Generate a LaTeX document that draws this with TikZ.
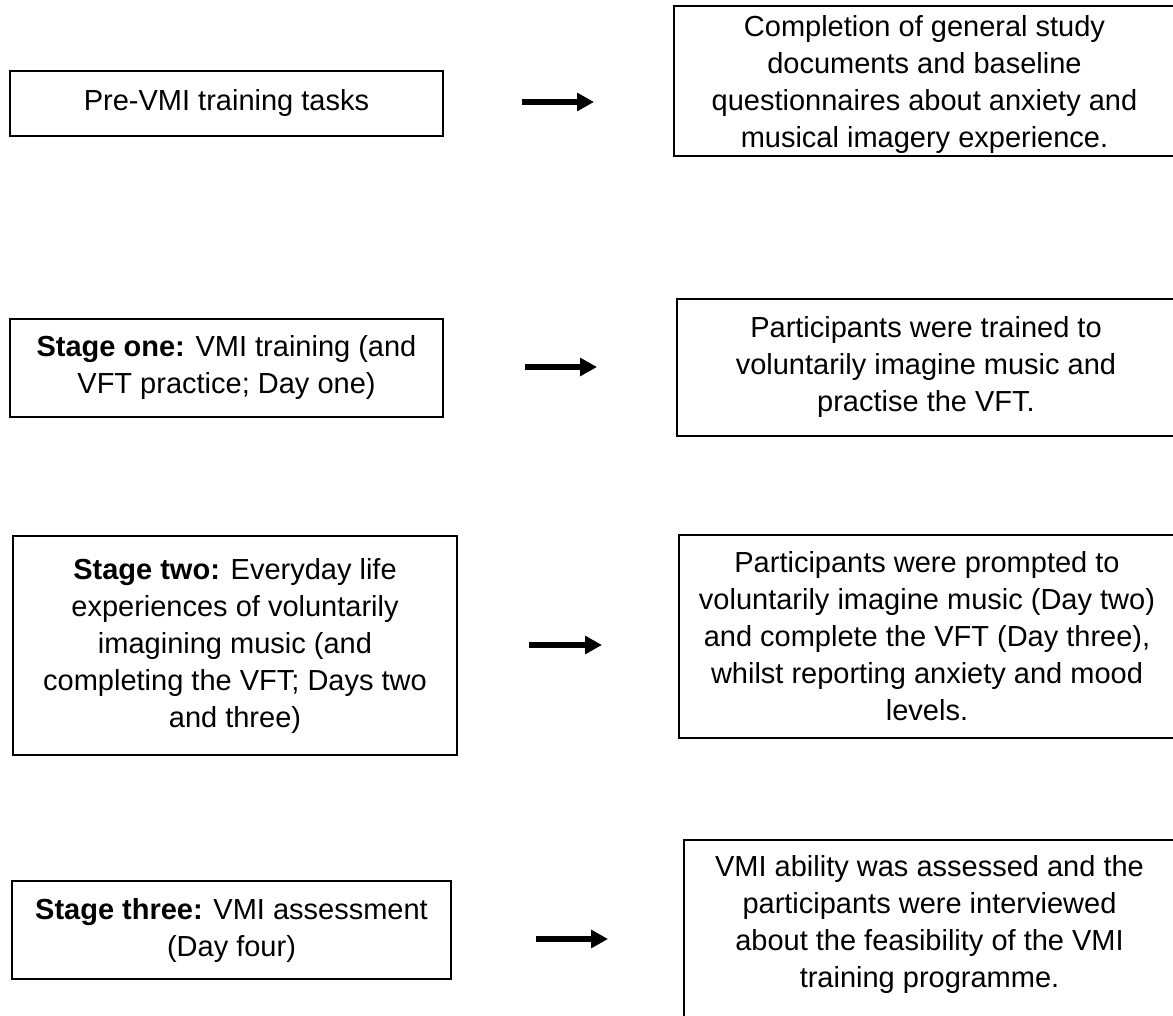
\documentclass[tikz,border=0pt]{standalone}
\usepackage{fontspec}
\setmainfont{Liberation Sans}
\usetikzlibrary{arrows.meta}
\begin{document}
\begin{tikzpicture}[x=0.5pt, y=-0.5pt,
  box/.style={draw, line width=0.95pt, inner sep=0pt, align=center,
    font=\fontsize{14.5}{18.5}\selectfont},
  txt/.style={inner sep=0pt, align=center, font=\fontsize{14.5}{18.5}\selectfont},
  arr/.style={line width=3.2pt, -{Triangle[length=8.5pt,width=8.8pt]}}]
\useasboundingbox (0,0) rectangle (1173,1016);
% left column
\node[box, minimum width=216.5pt, minimum height=32.5pt] (b1l) at (226.5,103.5)
  {Pre-VMI training tasks};
\node[box, minimum width=216.5pt, minimum height=49pt] (b2l) at (226.5,368)
  {\textbf{Stage one:} VMI training (and\\VFT practice; Day one)};
\node[box, minimum width=222pt, minimum height=109.5pt] (b3l) at (235,645.5)
  {\textbf{Stage two:} Everyday life\\experiences of voluntarily\\imagining music (and\\completing the VFT; Days two\\and three)};
\node[box, minimum width=219.5pt, minimum height=49pt] (b4l) at (231.5,930)
  {\textbf{Stage three:} VMI assessment\\(Day four)};
% right column
\node[box, minimum width=250.5pt, minimum height=75pt] (b1r) at (924.5,81) {};
\node[txt] (b1rt) at (924.5,85)
  {Completion of general study\\documents and baseline\\questionnaires about anxiety and\\musical imagery experience.};
\node[box, minimum width=249pt, minimum height=68.5pt] (b2r) at (926,367.5)
  {Participants were trained to\\voluntarily imagine music and\\practise the VFT.};
\node[box, minimum width=248pt, minimum height=101.5pt] (b3r) at (927,636.5)
  {Participants were prompted to\\voluntarily imagine music (Day two)\\and complete the VFT (Day three),\\whilst reporting anxiety and mood\\levels.};
\node[box, minimum width=245.5pt, minimum height=100pt] (b4r) at (929.5,940) {};
\node[txt] (b4rt) at (929.5,924)
  {VMI ability was assessed and the\\participants were interviewed\\about the feasibility of the VMI\\training programme.};
% arrows
\coordinate (a1s) at (522,102); \coordinate (a1e) at (594,102);
\coordinate (a2s) at (525,367); \coordinate (a2e) at (597,367);
\coordinate (a3s) at (529,645); \coordinate (a3e) at (602,645);
\coordinate (a4s) at (536,939); \coordinate (a4e) at (608,939);
\draw[arr] (a1s) -- (a1e);
\draw[arr] (a2s) -- (a2e);
\draw[arr] (a3s) -- (a3e);
\draw[arr] (a4s) -- (a4e);
\end{tikzpicture}
\end{document}
